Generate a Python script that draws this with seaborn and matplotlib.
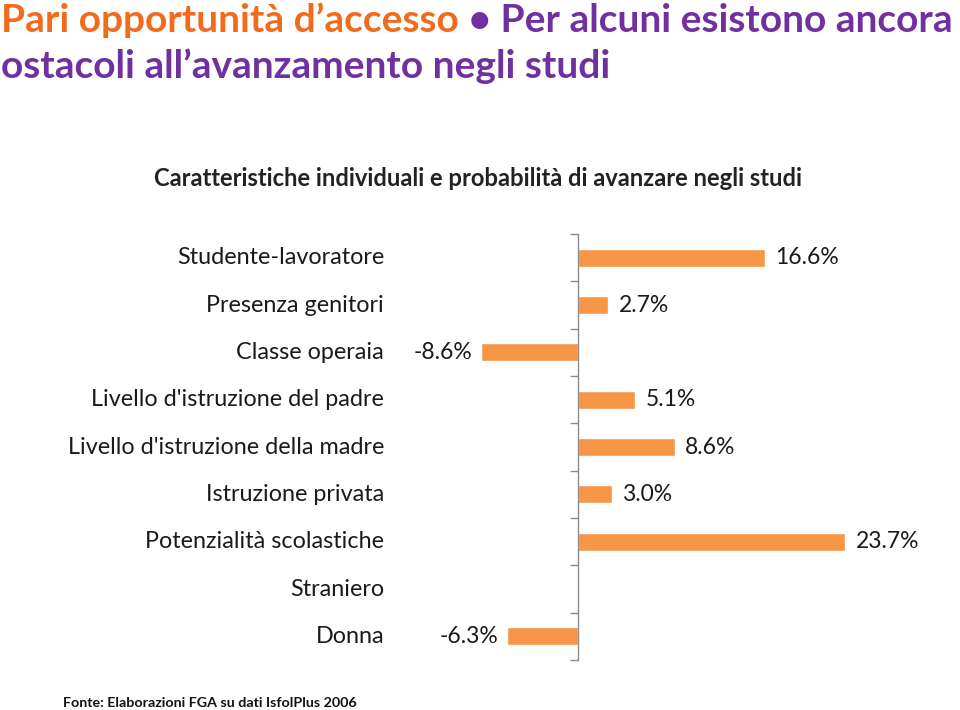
import matplotlib
matplotlib.use("Agg")
import matplotlib.pyplot as plt
import matplotlib.transforms as mtransforms
import seaborn as sns
import pandas as pd
import numpy as np

categories = [
    "Studente-lavoratore",
    "Presenza genitori",
    "Classe operaia",
    "Livello d'istruzione del padre",
    "Livello d'istruzione della madre",
    "Istruzione privata",
    "Potenzialità scolastiche",
    "Straniero",
    "Donna",
]
values = [16.6, 2.7, -8.6, 5.1, 8.6, 3.0, 23.7, np.nan, -6.3]

title_orange = "Pari opportunità d’accesso"
title_purple1 = " • Per alcuni esistono ancora"
title_purple2 = "ostacoli all’avanzamento negli studi"
subtitle = "Caratteristiche individuali e probabilità di avanzare negli studi"
source = "Fonte: Elaborazioni FGA su dati IsfolPlus 2006"

ORANGE_BAR = "#F79646"
ORANGE_TXT = "#F26B1D"
PURPLE = "#7030A0"
AXIS_GREY = "#8C8C8C"

sns.set_theme(style="white")
plt.rcParams["font.family"] = ["Lato", "DejaVu Sans"]

df = pd.DataFrame({"cat": categories, "val": values})

W, H = 960, 710
fig = plt.figure(figsize=(W / 100, H / 100), dpi=100)

xmin, xmax = -16.0, 32.0
px_per_unit = 11.27
zero_px = 578
left_px = zero_px + xmin * px_per_unit
right_px = zero_px + xmax * px_per_unit
top_px, bot_px = 234, 660
ax = fig.add_axes([left_px / W, 1 - bot_px / H, (right_px - left_px) / W, (bot_px - top_px) / H])

sns.barplot(data=df, x="val", y="cat", orient="h", color=ORANGE_BAR,
            width=0.38, saturation=1, ax=ax)

ax.set_xlim(xmin, xmax)
ax.set_ylim(len(categories) - 0.5, -0.5)
ax.set_xlabel("")
ax.set_ylabel("")
ax.set_xticks([])
for s in ["top", "right", "bottom"]:
    ax.spines[s].set_visible(False)
ax.spines["left"].set_position(("data", 0))
ax.spines["left"].set_color(AXIS_GREY)
ax.spines["left"].set_linewidth(1.0)
ax.set_yticks([])
ax.set_yticks(np.arange(-0.5, len(categories) + 0.5, 1.0), minor=True)
ax.tick_params(axis="y", which="minor", left=True, length=6, width=1.0,
               color=AXIS_GREY, direction="out", labelleft=False)
ax.set_facecolor("white")

# category labels
trans = mtransforms.blended_transform_factory(fig.transFigure, ax.transData)
for i, c in enumerate(categories):
    fig.text(384 / W, i, c, transform=trans, ha="right", va="center",
             fontsize=16.8, color="#1a1a1a")

# value labels
for i, v in enumerate(values):
    if np.isnan(v):
        continue
    lab = f"{v:.1f}%"
    if v >= 0:
        ax.annotate(lab, xy=(v, i), xytext=(7.5, 0), textcoords="offset points",
                    ha="left", va="center", fontsize=16.5, color="#1a1a1a")
    else:
        ax.annotate(lab, xy=(v, i), xytext=(-6.5, 0), textcoords="offset points",
                    ha="right", va="center", fontsize=16.5, color="#1a1a1a")

# title
t1 = fig.text(1 / W, 1 - 20 / H, title_orange, ha="left", va="center",
              fontsize=28, fontweight="bold", color=ORANGE_TXT)
plt.annotate(title_purple1, xy=(1, 0), xycoords=t1, ha="left", va="bottom",
             fontsize=28, fontweight="bold", color=PURPLE, annotation_clip=False)
fig.text(1 / W, 1 - 66 / H, title_purple2, ha="left", va="center",
         fontsize=28, fontweight="bold", color=PURPLE)

fig.text(478 / W, 1 - 178 / H, subtitle, ha="center", va="center",
         fontsize=17.1, fontweight="bold", color="#222222")

fig.text(63 / W, 1 - 703 / H, source, ha="left", va="center",
         fontsize=10.3, fontweight="bold", color="#111111")

fig.savefig("out.png", dpi=100, facecolor="white")
